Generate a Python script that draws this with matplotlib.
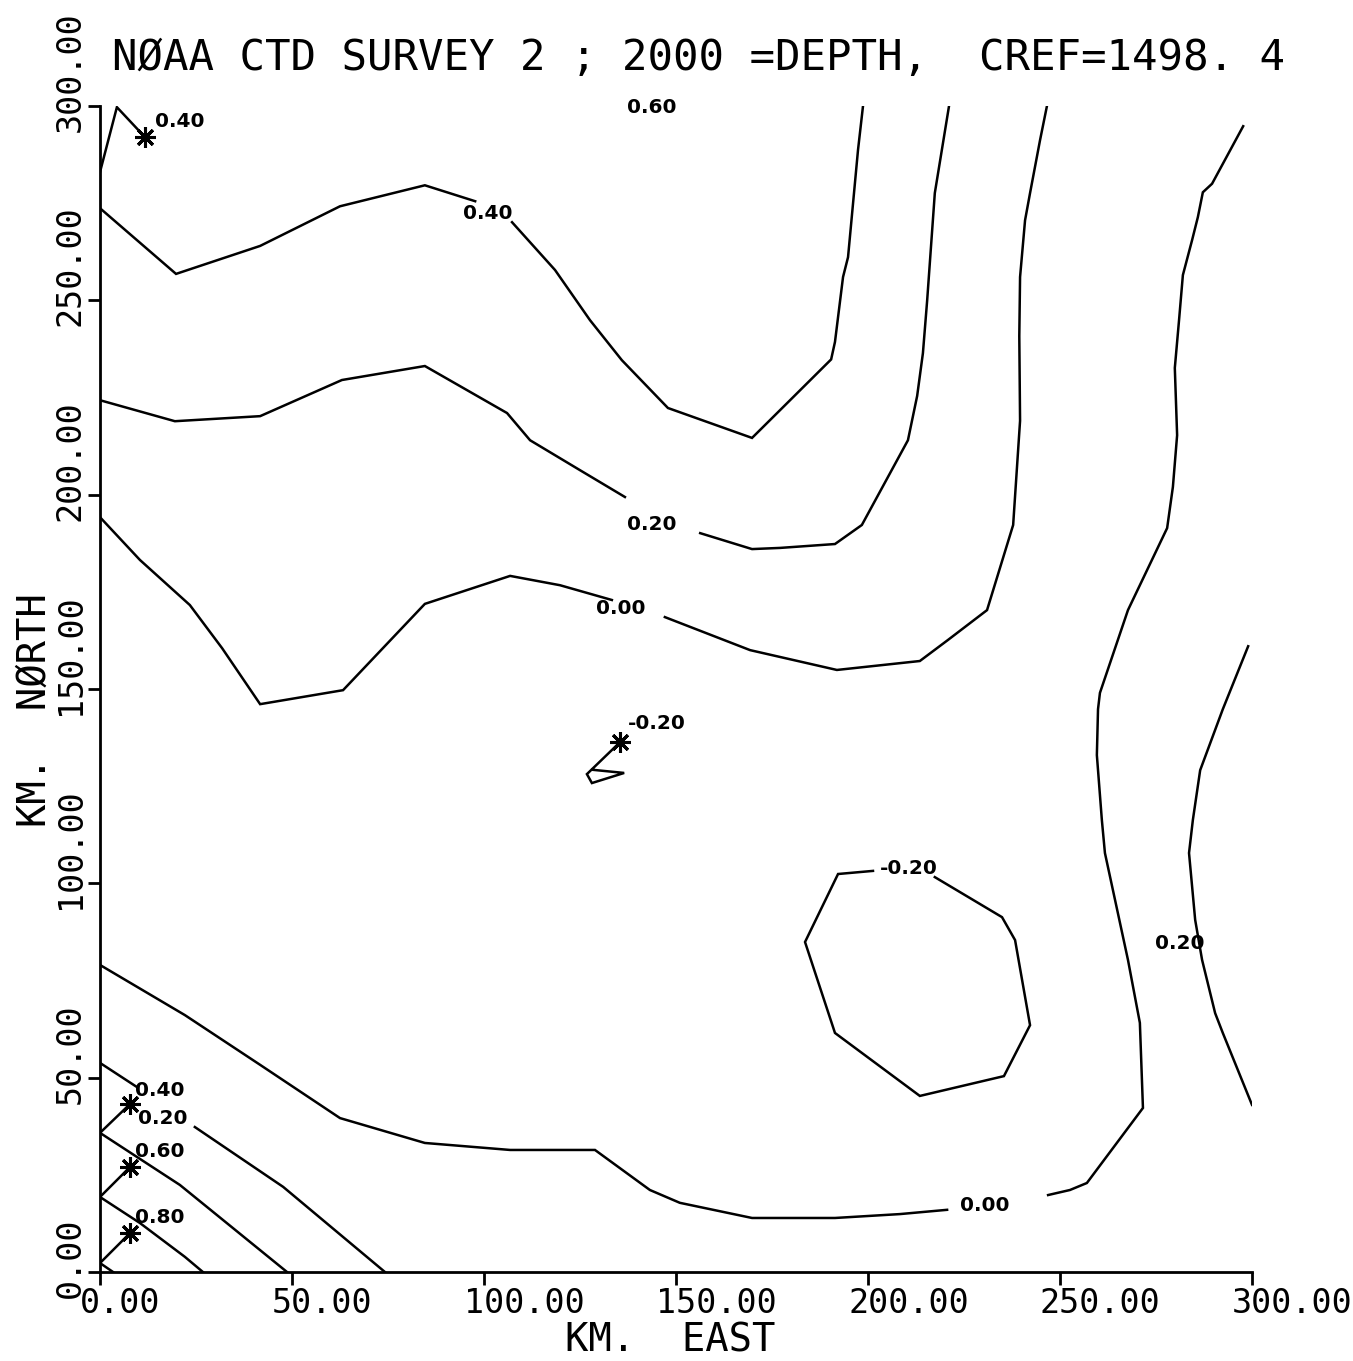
import numpy as np
import matplotlib
matplotlib.use('Agg')
import matplotlib.pyplot as plt
from matplotlib.transforms import offset_copy

# contour polylines, km east / km north
c040_top = [(0, 283.0), (4.4, 299.7), (11.7, 292.0)]
c040_a = [(0, 273.7), (19.8, 256.8), (41.7, 264.0), (62.5, 274.2), (84.6, 279.6), (97.7, 275.5)]
c040_b = [(107.3, 270.1), (118.5, 257.8), (127.6, 244.9), (135.9, 234.6), (147.9, 222.3),
          (169.8, 214.6), (179.7, 224.3), (190.4, 234.8), (191.4, 239.3), (193.5, 256.0),
          (194.8, 261.1), (197.4, 288.7), (198.7, 300.0)]
c020_a = [(0, 224.3), (19.5, 218.9), (41.7, 220.2), (63.0, 229.5), (84.6, 233.1),
          (106.0, 221.0), (112.0, 214.0), (125.0, 206.3), (136.7, 199.4)]
c020_b = [(156.3, 190.1), (169.8, 186.0), (177.1, 186.3), (191.4, 187.3), (198.4, 192.2),
          (210.4, 214.0), (212.8, 225.4), (214.3, 236.4), (215.4, 249.9), (217.4, 277.6),
          (221.1, 300.0)]
c000_a = [(0, 194.2), (10.4, 183.2), (23.4, 171.6), (31.8, 160.5), (41.7, 146.1),
          (63.3, 149.7), (84.6, 171.9), (106.8, 179.1), (119.8, 176.7), (133.3, 172.9)]
c000_b = [(147.1, 168.5), (169.3, 160.0), (191.9, 154.9), (213.5, 157.2), (220.8, 162.6),
          (231.0, 170.3), (237.8, 192.2), (239.6, 219.0), (239.4, 240.8), (239.6, 256.0),
          (240.9, 270.6), (242.2, 277.6), (244.8, 291.2), (246.6, 300.0)]
c000_low_a = [(0, 79.0), (22.1, 66.1), (41.7, 53.3), (62.5, 39.6), (84.6, 33.2),
              (106.8, 31.4), (128.9, 31.4), (143.2, 21.1), (151.0, 17.8), (169.8, 13.9),
              (191.4, 13.9), (208.3, 14.9), (220.6, 16.0)]
c000_low_b = [(246.9, 19.8), (252.6, 21.1), (257.0, 22.9), (271.6, 42.2), (270.8, 64.1),
              (267.7, 80.3), (261.7, 107.8), (260.9, 116.3), (259.6, 133.0), (259.9, 144.8),
              (260.4, 149.0), (267.7, 170.3), (277.9, 191.4), (279.4, 202.0), (280.5, 215.3),
              (279.9, 232.6), (281.0, 244.9), (282.0, 256.5), (284.4, 265.5), (285.9, 271.4),
              (287.2, 277.8), (289.6, 280.0), (297.7, 294.8)]
c020_right = [(299.0, 161.0), (292.4, 144.8), (286.5, 129.1), (284.6, 116.3), (283.6, 107.8),
              (285.2, 90.6), (287.0, 80.3), (290.4, 66.6), (292.4, 61.5), (300.0, 43.0)]
cm020_loop = [(217.4, 101.6), (234.9, 91.3), (238.3, 85.4), (242.2, 63.5), (235.4, 50.4),
              (213.5, 45.3), (191.4, 61.5), (183.6, 84.9), (192.2, 102.4), (201.3, 103.2)]
cm020_small = [(135.4, 136.3), (126.8, 128.1), (128.1, 125.8), (136.5, 128.4), (128.4, 129.2)]
c020_low = [(0, 53.8), (9.6, 47.6)]
c020_low_b = [(24.7, 37.3), (47.7, 21.9), (74.2, 0)]
c040_low = [(7.8, 43.2), (0, 35.8), (20.8, 22.4), (48.7, 0)]
c060_low = [(7.8, 27.0), (0, 19.3), (10.4, 12.6), (22.1, 3.9), (26.8, 0)]
c080_low = [(7.8, 10.0), (0, 2.3), (3.4, 0)]

lines = [c040_top, c040_a, c040_b, c020_a, c020_b, c000_a, c000_b, c000_low_a, c000_low_b,
         c020_right, cm020_loop, cm020_small, c020_low, c020_low_b, c040_low, c060_low, c080_low]

stars_x = [11.7, 135.4, 7.8, 7.8, 7.8]
stars_y = [292.0, 136.3, 43.2, 27.0, 10.0]

lab_text = ["0.40", "0.60", "0.40", "0.20", "0.00", "-0.20", "-0.20", "0.20", "0.00",
            "0.40", "0.20", "0.60", "0.80"]
lab_x = [14.3, 137.2, 94.5, 137.2, 129.2, 137.5, 203.1, 274.7, 224.0, 9.1, 9.9, 9.1, 9.1]
lab_y = [295.9, 299.5, 272.4, 192.4, 170.8, 141.0, 103.9, 84.6, 17.2, 46.8, 39.6, 30.9, 13.9]

ticks = [0, 50, 100, 150, 200, 250, 300]
tick_labels = ["0.00", "50.00", "100.00", "150.00", "200.00", "250.00", "300.00"]

mono = 'DejaVu Sans Mono'

fig = plt.figure(figsize=(13.53, 13.61), dpi=100)
ax = fig.add_axes([100/1353, 89/1361, 1152/1353, 1166/1361])

for ln in lines:
    xs, ys = zip(*ln)
    ax.plot(xs, ys, color='black', lw=1.8, solid_joinstyle='miter')

ax.plot(stars_x, stars_y, ls='none', marker=(8, 2, 0), ms=15, mew=2.2, color='black')

for t, x, y in zip(lab_text, lab_x, lab_y):
    ax.text(x, y, t, fontsize=14.5, fontweight='bold', ha='left', va='center', family='DejaVu Sans')

ax.set_xlim(0, 300)
ax.set_ylim(0, 300)
ax.spines['top'].set_visible(False)
ax.spines['right'].set_visible(False)
ax.spines['left'].set_linewidth(2)
ax.spines['bottom'].set_linewidth(2)
ax.set_xticks(ticks)
ax.set_yticks(ticks)
ax.set_xticklabels([])
ax.set_yticklabels([])
ax.tick_params(length=9, width=2, direction='out')

tx = offset_copy(ax.get_xaxis_transform(), fig=fig, x=-20, y=-15, units='dots')
for v, s in zip(ticks, tick_labels):
    ax.text(v, 0, s, transform=tx, ha='left', va='top', fontsize=24, family=mono)
ty = offset_copy(ax.get_yaxis_transform(), fig=fig, x=-30, y=-26, units='dots')
for v, s in zip(ticks, tick_labels):
    ax.text(0, v, s, transform=ty, ha='center', va='bottom', rotation=90, fontsize=24, family=mono)

fig.text(698/1353, 1 - 58/1361, "NØAA CTD SURVEY 2 ; 2000 =DEPTH,  CREF=1498. 4",
         ha='center', va='center', fontsize=30.5, family=mono)
fig.text(670/1353, 1 - 1340/1361, "KM.  EAST", ha='center', va='center', fontsize=28, family=mono)
fig.text(35/1353, 1 - 710/1361, "KM.  NØRTH", ha='center', va='center', rotation=90,
         fontsize=28, family=mono)

fig.savefig('out.png', dpi=100)
